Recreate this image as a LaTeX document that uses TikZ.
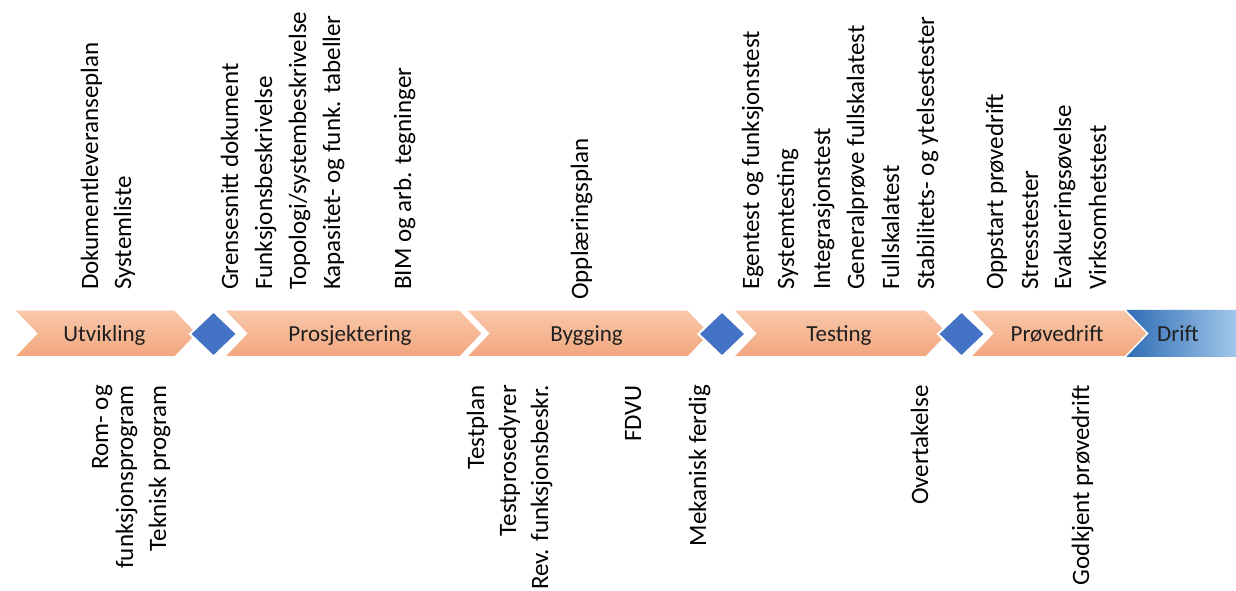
\documentclass[tikz,border=0pt]{standalone}
\usepackage{fontspec}
\setmainfont{Carlito}
\usetikzlibrary{shapes.geometric}
\definecolor{peachT}{RGB}{248,200,170}
\definecolor{peachB}{RGB}{242,166,126}
\definecolor{dblue}{RGB}{46,108,180}
\definecolor{lblue}{RGB}{160,198,234}
\definecolor{diamondblue}{RGB}{68,114,196}
\newcommand\mychev[2]{%
  \path[phase] (#1,281) -- (#2,281) -- (#2+22.5,257.5) -- (#2,234) -- (#1,234) -- (#1+22.5,257.5) -- cycle;}
\begin{document}
\begin{tikzpicture}[x=1pt,y=1pt,
  phase/.style={draw=white, line width=1.5pt, top color=peachT, bottom color=peachB, line join=miter},
  phaselabel/.style={font=\fontsize{23}{27}\selectfont, text=black!88, inner sep=0pt, anchor=base},
  milestone/.style={shape=diamond, fill=diamondblue, draw=white, line width=2pt, minimum width=48pt, minimum height=46pt, inner sep=0pt},
  toplabel/.style={rotate=90, anchor=base west, inner sep=0pt, font=\fontsize{25}{30}\selectfont},
  botlabel/.style={rotate=90, anchor=base east, inner sep=0pt, font=\fontsize{25}{30}\selectfont}]
\useasboundingbox (0,0) rectangle (1236,591);
\fill[white] (0,0) rectangle (1236,591);
\clip (0,0) rectangle (1236,591);
% phases
\path[left color=dblue, right color=lblue] (1125,281) -- (1236,281) -- (1236,234) -- (1125,234) -- (1147.5,257.5) -- cycle;
\mychev{14}{175}
\mychev{224}{460}
\mychev{466}{688}
\mychev{733}{926}
\mychev{970}{1125}
% milestones
\node[milestone] (m1) at (213.5,257) {};
\node[milestone] (m2) at (722,257) {};
\node[milestone] (m3) at (961.5,257) {};
% phase labels
\node[phaselabel] (utv) at (104.5,249.5) {Utvikling};
\node[phaselabel] (pro) at (350,249.5) {Prosjektering};
\node[phaselabel] (byg) at (586.5,249.5) {Bygging};
\node[phaselabel] (tes) at (839,249.5) {Testing};
\node[phaselabel] (prd) at (1057,249.5) {Prøvedrift};
\node[phaselabel] (dri) at (1178,249.5) {Drift};
% top labels
\node[toplabel] (t1) at (98,301) {Dokumentleveranseplan};
\node[toplabel] (t2) at (131,301) {Systemliste};
\node[toplabel] (t3) at (238,301) {Grensesnitt dokument};
\node[toplabel] (t4) at (272,301) {Funksjonsbeskrivelse};
\node[toplabel] (t5) at (306,301) {Topologi/systembeskrivelse};
\node[toplabel] (t6) at (340,301) {Kapasitet- og funk. tabeller};
\node[toplabel] (t7) at (411,301) {BIM og arb. tegninger};
\node[toplabel] (t8) at (588,291) {Opplæringsplan};
\node[toplabel] (t9) at (759,301) {Egentest og funksjonstest};
\node[toplabel] (t10) at (794,301) {Systemtesting};
\node[toplabel] (t11) at (830,301) {Integrasjonstest};
\node[toplabel] (t12) at (864,301) {Generalprøve fullskalatest};
\node[toplabel] (t13) at (899,301) {Fullskalatest};
\node[toplabel] (t14) at (934,301) {Stabilitets- og ytelsestester};
\node[toplabel] (t15) at (1003,301) {Oppstart prøvedrift};
\node[toplabel] (t16) at (1038,301) {Stresstester};
\node[toplabel] (t17) at (1071,301) {Evakueringsøvelse};
\node[toplabel] (t18) at (1106,301) {Virksomhetstest};
% bottom labels
\node[botlabel] (b1) at (108,206) {Rom- og};
\node[botlabel] (b2) at (133,206) {funksjonsprogram};
\node[botlabel] (b3) at (166,206) {Teknisk program};
\node[botlabel] (b4) at (484,206) {Testplan};
\node[botlabel] (b5) at (516,206) {Testprosedyrer};
\node[botlabel] (b6) at (548,206) {Rev. funksjonsbeskr.};
\node[botlabel] (b7) at (641,206) {FDVU};
\node[botlabel] (b8) at (706,206) {Mekanisk ferdig};
\node[botlabel] (b9) at (928,206) {Overtakelse};
\node[botlabel] (b10) at (1089,206) {Godkjent prøvedrift};
\end{tikzpicture}
\end{document}
